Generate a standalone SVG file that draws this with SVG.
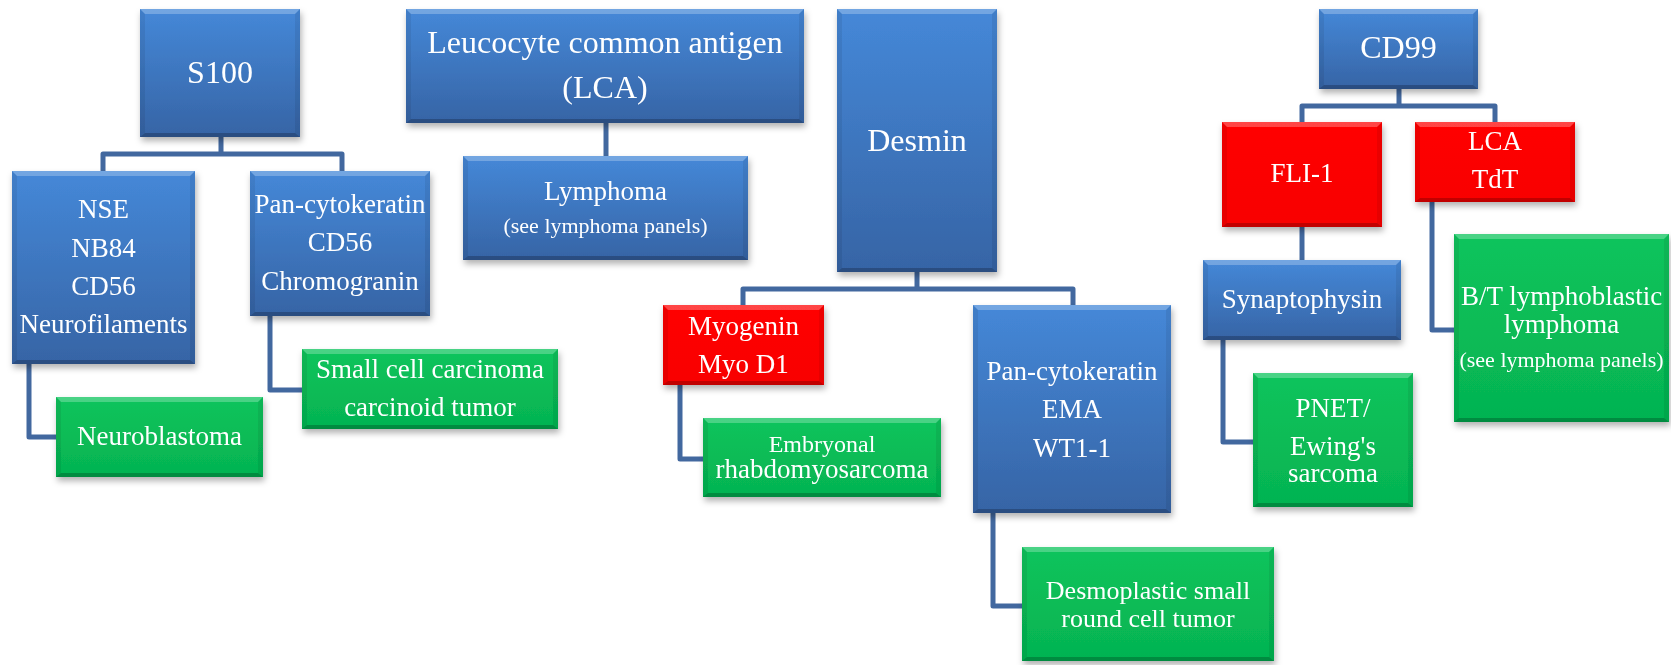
<svg xmlns="http://www.w3.org/2000/svg" width="1671" height="665" viewBox="0 0 1671 665">
  <defs>
    <linearGradient id="gBlue" x1="0" y1="0" x2="0" y2="1">
      <stop offset="0" stop-color="#4588d8"/>
      <stop offset="1" stop-color="#3664a5"/>
    </linearGradient>
    <linearGradient id="gRed" x1="0" y1="0" x2="0" y2="1">
      <stop offset="0" stop-color="#ff0606"/>
      <stop offset="1" stop-color="#f80000"/>
    </linearGradient>
    <linearGradient id="gGreen" x1="0" y1="0" x2="0" y2="1">
      <stop offset="0" stop-color="#0cc45c"/>
      <stop offset="1" stop-color="#05b351"/>
    </linearGradient>
    <filter id="shadow" x="-10%" y="-10%" width="125%" height="130%">
      <feDropShadow dx="1.5" dy="4" stdDeviation="3" flood-color="#000" flood-opacity="0.3"/>
    </filter>
  </defs>
  <style>
    .blue { fill: url(#gBlue); }
    .red { fill: url(#gRed); }
    .green { fill: url(#gGreen); }
    .bt { fill: #fff; fill-opacity: 0.25; }
    .bb { fill: #000; fill-opacity: 0.22; }
    .bs { fill: #000; fill-opacity: 0.07; }
    .node { filter: url(#shadow); }
    text { font-family: "Liberation Serif", "Times New Roman", serif; fill: #fff; text-anchor: middle; font-size: 27px; }
    .big { font-size: 32px; }
    .small { font-size: 22px; }
    .mid { font-size: 24px; }
    .n26 { font-size: 26px; }
    .conn { fill: none; stroke: #42689f; stroke-width: 5; stroke-linejoin: round; stroke-linecap: butt; }
  </style>

  <rect width="1671" height="665" fill="#fff"/>

  <!-- connectors -->
  <g id="connectors">
    <path class="conn" d="M221,137 V154 M103,171 V154 H342 V171"/>
    <path class="conn" d="M29,364 V437 H56"/>
    <path class="conn" d="M270,316 V390 H302"/>
    <path class="conn" d="M606,123 V156"/>
    <path class="conn" d="M917,272 V289 M743,305 V289 H1073 V305"/>
    <path class="conn" d="M680,385 V459 H703"/>
    <path class="conn" d="M993,513 V606 H1022"/>
    <path class="conn" d="M1399,89 V106 M1302,122 V106 H1495 V122"/>
    <path class="conn" d="M1302,227 V260"/>
    <path class="conn" d="M1223,340 V442 H1253"/>
    <path class="conn" d="M1432,202 V330 H1454"/>
  </g>

  <!-- S100 -->
  <g id="s100" class="node">
    <rect class="blue" x="140" y="9" width="160" height="128"/>
    <path class="bt" d="M140,9 h160 l-5,5 h-150 z"/>
    <path class="bb" d="M140,137 h160 l-5,-4 h-150 z"/>
    <path class="bs" d="M140,9 v128 l5,-4 v-119 z M300,9 v128 l-5,-4 v-119 z"/>
    <text class="big" x="220" y="83">S100</text>
  </g>

  <g id="nse" class="node">
    <rect class="blue" x="12" y="171" width="183" height="193"/>
    <path class="bt" d="M12,171 h183 l-5,5 h-173 z"/>
    <path class="bb" d="M12,364 h183 l-5,-4 h-173 z"/>
    <path class="bs" d="M12,171 v193 l5,-4 v-184 z M195,171 v193 l-5,-4 v-184 z"/>
    <text x="103.5" y="218">NSE</text>
    <text x="103.5" y="257">NB84</text>
    <text x="103.5" y="295">CD56</text>
    <text x="103.5" y="333">Neurofilaments</text>
  </g>

  <g id="pancyto1" class="node">
    <rect class="blue" x="250" y="171" width="180" height="145"/>
    <path class="bt" d="M250,171 h180 l-5,5 h-170 z"/>
    <path class="bb" d="M250,316 h180 l-5,-4 h-170 z"/>
    <path class="bs" d="M250,171 v145 l5,-4 v-136 z M430,171 v145 l-5,-4 v-136 z"/>
    <text x="340" y="213">Pan-cytokeratin</text>
    <text x="340" y="251">CD56</text>
    <text x="340" y="290">Chromogranin</text>
  </g>

  <g id="neuroblastoma" class="node">
    <rect class="green" x="56" y="397" width="207" height="80"/>
    <path class="bt" d="M56,397 h207 l-5,5 h-197 z"/>
    <path class="bb" d="M56,477 h207 l-5,-4 h-197 z"/>
    <path class="bs" d="M56,397 v80 l5,-4 v-71 z M263,397 v80 l-5,-4 v-71 z"/>
    <text x="159.5" y="445">Neuroblastoma</text>
  </g>

  <g id="smallcell" class="node">
    <rect class="green" x="302" y="349" width="256" height="80"/>
    <path class="bt" d="M302,349 h256 l-5,5 h-246 z"/>
    <path class="bb" d="M302,429 h256 l-5,-4 h-246 z"/>
    <path class="bs" d="M302,349 v80 l5,-4 v-71 z M558,349 v80 l-5,-4 v-71 z"/>
    <text x="430" y="378">Small cell carcinoma</text>
    <text x="430" y="416">carcinoid tumor</text>
  </g>

  <!-- LCA -->
  <g id="lca" class="node">
    <rect class="blue" x="406" y="9" width="398" height="114"/>
    <path class="bt" d="M406,9 h398 l-5,5 h-388 z"/>
    <path class="bb" d="M406,123 h398 l-5,-4 h-388 z"/>
    <path class="bs" d="M406,9 v114 l5,-4 v-105 z M804,9 v114 l-5,-4 v-105 z"/>
    <text class="big" x="605" y="53">Leucocyte common antigen</text>
    <text class="big" x="605" y="98">(LCA)</text>
  </g>

  <g id="lymphoma" class="node">
    <rect class="blue" x="463" y="156" width="285" height="104"/>
    <path class="bt" d="M463,156 h285 l-5,5 h-275 z"/>
    <path class="bb" d="M463,260 h285 l-5,-4 h-275 z"/>
    <path class="bs" d="M463,156 v104 l5,-4 v-95 z M748,156 v104 l-5,-4 v-95 z"/>
    <text x="605.5" y="200">Lymphoma</text>
    <text class="small" x="605.5" y="233">(see lymphoma panels)</text>
  </g>

  <!-- Desmin -->
  <g id="desmin" class="node">
    <rect class="blue" x="837" y="9" width="160" height="263"/>
    <path class="bt" d="M837,9 h160 l-5,5 h-150 z"/>
    <path class="bb" d="M837,272 h160 l-5,-4 h-150 z"/>
    <path class="bs" d="M837,9 v263 l5,-4 v-254 z M997,9 v263 l-5,-4 v-254 z"/>
    <text class="big" x="917" y="151">Desmin</text>
  </g>

  <g id="myogenin" class="node">
    <rect class="red" x="663" y="305" width="161" height="80"/>
    <path class="bt" d="M663,305 h161 l-5,5 h-151 z"/>
    <path class="bb" d="M663,385 h161 l-5,-4 h-151 z"/>
    <path class="bs" d="M663,305 v80 l5,-4 v-71 z M824,305 v80 l-5,-4 v-71 z"/>
    <text x="743.5" y="335">Myogenin</text>
    <text x="743.5" y="373">Myo D1</text>
  </g>

  <g id="embryonal" class="node">
    <rect class="green" x="703" y="418" width="238" height="79"/>
    <path class="bt" d="M703,418 h238 l-5,5 h-228 z"/>
    <path class="bb" d="M703,497 h238 l-5,-4 h-228 z"/>
    <path class="bs" d="M703,418 v79 l5,-4 v-70 z M941,418 v79 l-5,-4 v-70 z"/>
    <text class="mid" x="822" y="452">Embryonal</text>
    <text x="822" y="478">rhabdomyosarcoma</text>
  </g>

  <g id="pancyto2" class="node">
    <rect class="blue" x="973" y="305" width="198" height="208"/>
    <path class="bt" d="M973,305 h198 l-5,5 h-188 z"/>
    <path class="bb" d="M973,513 h198 l-5,-4 h-188 z"/>
    <path class="bs" d="M973,305 v208 l5,-4 v-199 z M1171,305 v208 l-5,-4 v-199 z"/>
    <text x="1072" y="380">Pan-cytokeratin</text>
    <text x="1072" y="418">EMA</text>
    <text x="1072" y="457">WT1-1</text>
  </g>

  <g id="desmoplastic" class="node">
    <rect class="green" x="1022" y="547" width="252" height="114"/>
    <path class="bt" d="M1022,547 h252 l-5,5 h-242 z"/>
    <path class="bb" d="M1022,661 h252 l-5,-4 h-242 z"/>
    <path class="bs" d="M1022,547 v114 l5,-4 v-105 z M1274,547 v114 l-5,-4 v-105 z"/>
    <text class="n26" x="1148" y="599">Desmoplastic small</text>
    <text class="n26" x="1148" y="627">round cell tumor</text>
  </g>

  <!-- CD99 -->
  <g id="cd99" class="node">
    <rect class="blue" x="1319" y="9" width="159" height="80"/>
    <path class="bt" d="M1319,9 h159 l-5,5 h-149 z"/>
    <path class="bb" d="M1319,89 h159 l-5,-4 h-149 z"/>
    <path class="bs" d="M1319,9 v80 l5,-4 v-71 z M1478,9 v80 l-5,-4 v-71 z"/>
    <text class="big" x="1398.5" y="58">CD99</text>
  </g>

  <g id="fli1" class="node">
    <rect class="red" x="1222" y="122" width="160" height="105"/>
    <path class="bt" d="M1222,122 h160 l-5,5 h-150 z"/>
    <path class="bb" d="M1222,227 h160 l-5,-4 h-150 z"/>
    <path class="bs" d="M1222,122 v105 l5,-4 v-96 z M1382,122 v105 l-5,-4 v-96 z"/>
    <text x="1302" y="182">FLI-1</text>
  </g>

  <g id="lcatdt" class="node">
    <rect class="red" x="1415" y="122" width="160" height="80"/>
    <path class="bt" d="M1415,122 h160 l-5,5 h-150 z"/>
    <path class="bb" d="M1415,202 h160 l-5,-4 h-150 z"/>
    <path class="bs" d="M1415,122 v80 l5,-4 v-71 z M1575,122 v80 l-5,-4 v-71 z"/>
    <text x="1495" y="150">LCA</text>
    <text x="1495" y="188">TdT</text>
  </g>

  <g id="synaptophysin" class="node">
    <rect class="blue" x="1203" y="260" width="198" height="80"/>
    <path class="bt" d="M1203,260 h198 l-5,5 h-188 z"/>
    <path class="bb" d="M1203,340 h198 l-5,-4 h-188 z"/>
    <path class="bs" d="M1203,260 v80 l5,-4 v-71 z M1401,260 v80 l-5,-4 v-71 z"/>
    <text x="1302" y="308">Synaptophysin</text>
  </g>

  <g id="pnet" class="node">
    <rect class="green" x="1253" y="373" width="160" height="134"/>
    <path class="bt" d="M1253,373 h160 l-5,5 h-150 z"/>
    <path class="bb" d="M1253,507 h160 l-5,-4 h-150 z"/>
    <path class="bs" d="M1253,373 v134 l5,-4 v-125 z M1413,373 v134 l-5,-4 v-125 z"/>
    <text x="1333" y="417">PNET/</text>
    <text x="1333" y="455">Ewing's</text>
    <text x="1333" y="482">sarcoma</text>
  </g>

  <g id="btlymphoma" class="node">
    <rect class="green" x="1454" y="234" width="215" height="188"/>
    <path class="bt" d="M1454,234 h215 l-5,5 h-205 z"/>
    <path class="bb" d="M1454,422 h215 l-5,-4 h-205 z"/>
    <path class="bs" d="M1454,234 v188 l5,-4 v-179 z M1669,234 v188 l-5,-4 v-179 z"/>
    <text x="1561.5" y="305">B/T lymphoblastic</text>
    <text x="1561.5" y="333">lymphoma</text>
    <text class="small" x="1561.5" y="367">(see lymphoma panels)</text>
  </g>
</svg>
